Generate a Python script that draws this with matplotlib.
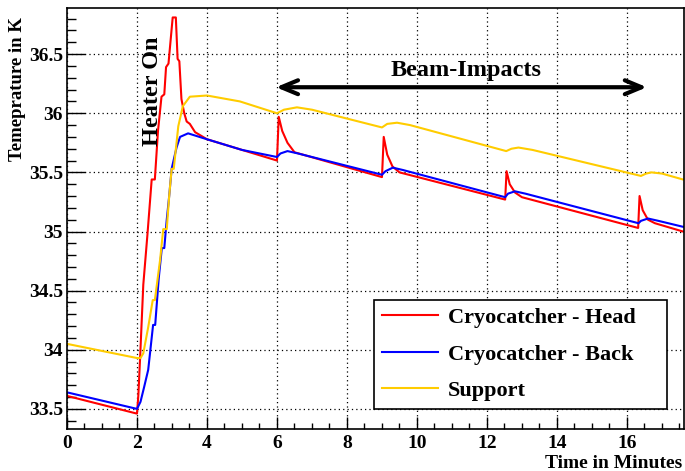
import numpy as np
import matplotlib
matplotlib.use('Agg')
import matplotlib.pyplot as plt
from matplotlib.ticker import MultipleLocator

# Temperature readings (minutes, Kelvin)
head_t = [0, 2.0, 2.04, 2.09, 2.18, 2.3, 2.42, 2.51, 2.6, 2.7, 2.78, 2.83, 2.9,
          3.02, 3.11, 3.16, 3.21, 3.27, 3.35, 3.42, 3.51, 3.66, 4.0, 5.0, 6.0,
          6.05, 6.15, 6.3, 6.5, 9.0, 9.05, 9.15, 9.3, 9.5, 12.52, 12.56, 12.65,
          12.8, 13.0, 16.32, 16.36, 16.45, 16.6, 16.8, 17.6]
head_T = [33.61, 33.46, 33.62, 33.94, 34.55, 34.98, 35.44, 35.44, 35.85, 36.14,
          36.16, 36.39, 36.42, 36.81, 36.81, 36.46, 36.44, 36.12, 36.0, 35.93,
          35.91, 35.84, 35.78, 35.69, 35.6, 35.97, 35.85, 35.75, 35.67, 35.46,
          35.8, 35.65, 35.55, 35.5, 35.27, 35.51, 35.4, 35.33, 35.29, 35.03,
          35.3, 35.18, 35.1, 35.07, 35.0]

back_t = [0, 2.0, 2.1, 2.2, 2.32, 2.46, 2.52, 2.62, 2.71, 2.78, 2.85, 2.92,
          2.99, 3.06, 3.13, 3.23, 3.46, 4.0, 5.0, 6.0, 6.1, 6.3, 6.6, 9.0, 9.1,
          9.31, 9.6, 12.52, 12.6, 12.8, 13.1, 16.33, 16.4, 16.6, 16.9, 17.6]
back_T = [33.64, 33.5, 33.56, 33.68, 33.83, 34.21, 34.21, 34.6, 34.86, 34.86,
          35.1, 35.3, 35.53, 35.62, 35.71, 35.8, 35.83, 35.78, 35.69, 35.63,
          35.66, 35.68, 35.66, 35.48, 35.51, 35.54, 35.52, 35.29, 35.32, 35.34,
          35.32, 35.07, 35.09, 35.11, 35.09, 35.04]

supp_t = [0, 2.0, 2.1, 2.18, 2.32, 2.45, 2.51, 2.66, 2.75, 2.85, 2.92, 2.99,
          3.05, 3.18, 3.31, 3.51, 4.0, 4.94, 6.0, 6.2, 6.57, 7.0, 9.0, 9.15,
          9.43, 9.8, 12.55, 12.7, 12.9, 13.3, 16.4, 16.55, 16.7, 17.0, 17.6]
supp_T = [34.05, 33.93, 33.93, 33.97, 34.19, 34.42, 34.42, 34.76, 35.02, 35.02,
          35.3, 35.53, 35.53, 35.89, 36.06, 36.14, 36.15, 36.1, 36.0, 36.03,
          36.05, 36.03, 35.88, 35.91, 35.92, 35.9, 35.68, 35.7, 35.71, 35.69,
          35.47, 35.49, 35.5, 35.49, 35.44]

beam_start, beam_end, beam_level = 5.97, 16.57, 36.22

serif = 'Liberation Serif'
plt.rcParams['font.family'] = serif
plt.rcParams['font.weight'] = 'bold'

fig = plt.figure(figsize=(6.85, 4.71), dpi=100)
ax = fig.add_axes([67 / 685, 42 / 471, 617 / 685, 421 / 471])

ax.plot(head_t, head_T, color='#ff0000', lw=1.5, label='Cryocatcher - Head')
ax.plot(back_t, back_T, color='#0000ff', lw=1.5, label='Cryocatcher - Back')
ax.plot(supp_t, supp_T, color='#ffcc00', lw=1.5, label='Support')

ax.set_xlim(0, 17.63)
ax.set_ylim(33.33, 36.89)
ax.xaxis.set_major_locator(MultipleLocator(2))
ax.xaxis.set_minor_locator(MultipleLocator(0.5))
ax.yaxis.set_major_locator(MultipleLocator(0.5))
ax.yaxis.set_minor_locator(MultipleLocator(0.1))
ax.yaxis.set_major_formatter(plt.FuncFormatter(lambda v, p: f'{v:g}'))

ax.tick_params(axis='both', which='both', direction='in', top=False, right=False,
               labelsize=14, width=1)
ax.tick_params(axis='x', which='major', length=9, pad=4)
ax.tick_params(axis='x', which='minor', length=4.5)
ax.tick_params(axis='y', which='major', length=13, pad=3)
ax.tick_params(axis='y', which='minor', length=6.5)
for lab in ax.get_xticklabels() + ax.get_yticklabels():
    lab.set_fontweight('bold')
for sp in ax.spines.values():
    sp.set_linewidth(1.2)

ax.grid(True, which='major', color='black', ls=(0, (1, 2.5)), lw=0.9)

ax.text(-0.081, 0.808, 'Temeprature in K', transform=ax.transAxes, rotation=90,
        ha='center', va='center', fontsize=13.5, fontweight='bold')
ax.text(0.997, -0.081, 'Time in Minutes', transform=ax.transAxes,
        ha='right', va='center', fontsize=14, fontweight='bold')

ax.text(2.45, 36.19, 'Heater On', rotation=90, ha='center', va='center',
        fontsize=17.5, fontweight='bold')

ax.annotate('', xy=(beam_end, beam_level), xytext=(beam_start, beam_level),
            arrowprops=dict(arrowstyle='<->,head_length=1.2,head_width=0.5',
                            lw=3, color='black', shrinkA=0, shrinkB=0))
ax.text(11.4, 36.36, 'Beam-Impacts', ha='center', va='center',
        fontsize=17.5, fontweight='bold')

leg = ax.legend(loc='lower left', bbox_to_anchor=(0.498, 0.0475, 0.474, 0.261),
                mode='expand', fontsize=16, frameon=True, fancybox=False,
                edgecolor='black', framealpha=1, handlelength=2.5,
                handletextpad=0.45, labelspacing=0.72, borderpad=0.35,
                borderaxespad=0)
leg.get_frame().set_linewidth(1.2)
for t in leg.get_texts():
    t.set_fontweight('bold')

fig.savefig('out.png', dpi=100)
